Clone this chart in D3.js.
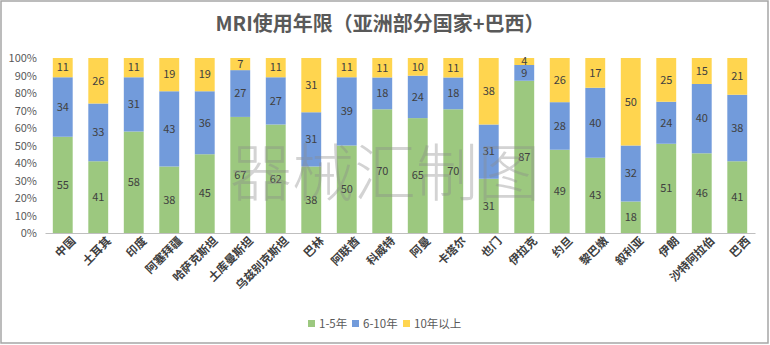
<!DOCTYPE html>
<html>
<head>
<meta charset="utf-8">
<script src="https://cdn.jsdelivr.net/npm/d3@7"></script>
<style>
  body { margin: 0; background: #fff; }
  svg text { font-family: "Noto Sans CJK SC", "Noto Sans", sans-serif; }
</style>
</head>
<body>
<svg width="770" height="345"></svg>
<script>
// categorieen en waardes
var countries = ["中国", "土耳其", "印度", "阿塞拜疆", "哈萨克斯坦", "土库曼斯坦", "乌兹别克斯坦", "巴林", "阿联酋", "科威特",
    "阿曼", "卡塔尔", "也门", "伊拉克", "约旦", "黎巴嫩", "叙利亚", "伊朗", "沙特阿拉伯", "巴西"];
var y1to5 = [55, 41, 58, 38, 45, 67, 62, 38, 50, 70, 65, 70, 31, 87, 49, 43, 18, 51, 46, 41];
var y6to10 = [34, 33, 31, 43, 36, 27, 27, 31, 39, 18, 24, 18, 31, 9, 28, 40, 32, 24, 40, 38];
var y10plus = [11, 26, 11, 19, 19, 7, 11, 31, 11, 11, 10, 11, 38, 4, 26, 17, 50, 25, 15, 21];
var seriesNames = ["1-5年", "6-10年", "10年以上"];
var yTicks = [0, 0.1, 0.2, 0.3, 0.4, 0.5, 0.6, 0.7, 0.8, 0.9, 1];

var colors = ["#9cc87f", "#729bdb", "#ffd54f"];

var svg = d3.select("svg"),
    margin = { top: 58, right: 15, bottom: 112, left: 45 },
    width = +svg.attr("width") - margin.left - margin.right,
    height = +svg.attr("height") - margin.top - margin.bottom;

// rand
svg.append("rect")
    .attr("x", 1).attr("y", 1)
    .attr("width", 767).attr("height", 342)
    .attr("fill", "#fff")
    .attr("stroke", "#a6a6a6")
    .attr("stroke-width", 1.5);

// titel
svg.append("text")
    .attr("x", 380).attr("y", 31)
    .attr("text-anchor", "middle")
    .attr("font-size", 20)
    .attr("font-weight", "bold")
    .attr("fill", "#595959")
    .text("MRI使用年限（亚洲部分国家+巴西）");

var data = countries.map(function (c, i) {
    var total = y1to5[i] + y6to10[i] + y10plus[i];
    return { country: c, raw: [y1to5[i], y6to10[i], y10plus[i]], total: total };
});

var x = d3.scaleBand().domain(countries).range([0, width]).paddingInner(0.44).paddingOuter(0.22),
    y = d3.scaleLinear().domain([0, 1]).range([height, 0]);

var g = svg.append("g")
    .attr("transform", "translate(" + margin.left + "," + margin.top + ")");

// y as
var yAxis = g.append("g")
    .call(d3.axisLeft(y).tickValues(yTicks).tickFormat(d3.format(".0%")).tickSize(0).tickPadding(8));
yAxis.select(".domain").remove();
yAxis.selectAll("text").attr("fill", "#595959").attr("font-size", 11);

// gestapelde balken
var stacked = [];
data.forEach(function (d) {
    var acc = 0;
    d.raw.forEach(function (v, k) {
        var y0 = acc / d.total;
        acc += v;
        stacked.push({ country: d.country, k: k, value: v, y0: y0, y1: acc / d.total });
    });
});

g.selectAll(".bar")
    .data(stacked)
    .enter().append("rect")
    .attr("class", "bar")
    .attr("x", function (d) { return x(d.country); })
    .attr("width", x.bandwidth())
    .attr("y", function (d) { return y(d.y1); })
    .attr("height", function (d) { return y(d.y0) - y(d.y1); })
    .attr("fill", function (d) { return colors[d.k]; });

// watermerk
svg.append("text")
    .attr("x", 385).attr("y", 196)
    .attr("text-anchor", "middle")
    .attr("font-size", 62)
    .attr("font-weight", 300)
    .attr("fill", "#8c8c8c")
    .attr("fill-opacity", 0.38)
    .text("器械汇制图");

// labels in de balken
g.selectAll(".lbl")
    .data(stacked)
    .enter().append("text")
    .attr("class", "lbl")
    .attr("x", function (d) { return x(d.country) + x.bandwidth() / 2; })
    .attr("y", function (d) { return (y(d.y0) + y(d.y1)) / 2; })
    .attr("dy", "0.35em")
    .attr("text-anchor", "middle")
    .attr("font-size", 11)
    .attr("fill", "#404040")
    .text(function (d) { return d.value; });

// x as
var xAxis = g.append("g")
    .attr("transform", "translate(0," + height + ")")
    .call(d3.axisBottom(x).tickSize(0).tickPadding(10));
xAxis.select(".domain").attr("stroke", "#bfbfbf");
xAxis.selectAll("text")
    .attr("fill", "#404040")
    .attr("font-size", 11.5)
    .attr("font-weight", "bold")
    .style("text-anchor", "end")
    .attr("dx", "0.3em")
    .attr("dy", "0.5em")
    .attr("transform", "rotate(-45)");

// legenda
var legend = svg.append("g").attr("transform", "translate(308,320)");
var offsets = [0, 44, 95];
seriesNames.forEach(function (name, i) {
    var item = legend.append("g").attr("transform", "translate(" + offsets[i] + ",0)");
    item.append("rect").attr("width", 7).attr("height", 7).attr("fill", colors[i]);
    item.append("text")
        .attr("x", 11).attr("y", 7.5)
        .attr("font-size", 11.5)
        .attr("fill", "#595959")
        .text(name);
});
</script>
</body>
</html>
